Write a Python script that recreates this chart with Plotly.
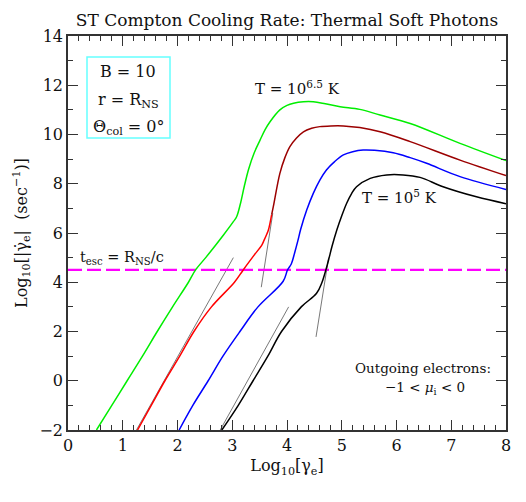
import plotly.graph_objects as go

# curves (log10 gamma_e, log10 |gamma_e dot|)
green_x = [0.52, 0.80, 1.08, 1.36, 1.63, 1.91, 2.20, 2.33, 2.53, 2.84, 3.02, 3.08, 3.15, 3.22,
           3.30, 3.40, 3.51, 3.60, 3.69, 3.87, 4.00, 4.12, 4.30, 4.48, 4.70, 4.97, 5.33, 5.70,
           6.25, 7.16, 8.00]
green_y = [-2.0, -1.0, 0.0, 1.0, 2.0, 3.0, 4.0, 4.5, 5.04, 5.92, 6.46, 6.66, 7.2, 7.9,
           8.6, 9.25, 9.78, 10.2, 10.52, 11.0, 11.18, 11.27, 11.33, 11.33, 11.25, 11.13, 11.02, 10.79,
           10.45, 9.64, 8.94]

red_x = [1.27, 1.52, 1.77, 2.04, 2.30, 2.62, 3.04, 3.20, 3.40, 3.54, 3.58, 3.63, 3.66, 3.72]
red_y = [-2.0, -1.0, 0.0, 1.0, 2.0, 3.0, 4.0, 4.5, 5.1, 5.51, 5.7, 5.95, 6.12, 6.75]

maroon_x = [3.72, 3.75, 3.87, 3.96, 4.05, 4.17, 4.30, 4.45, 4.60, 4.80, 5.03, 5.33, 5.70, 6.25,
            7.16, 8.00]
maroon_y = [6.75, 7.07, 8.42, 9.05, 9.5, 9.85, 10.11, 10.25, 10.32, 10.35, 10.35, 10.28, 10.11, 9.71,
            8.96, 8.33]

blue_x = [2.03, 2.28, 2.56, 2.83, 3.14, 3.47, 3.93, 4.01, 4.08, 4.14, 4.20, 4.25, 4.36, 4.48,
          4.60, 4.72, 4.87, 5.03, 5.20, 5.39, 5.60, 5.94, 6.25, 6.55, 7.16, 8.00]
blue_y = [-2.0, -1.0, 0.0, 1.0, 2.0, 3.0, 4.04, 4.5, 4.75, 5.2, 5.7, 6.15, 6.93, 7.61,
          8.15, 8.56, 8.9, 9.17, 9.3, 9.37, 9.36, 9.26, 9.06, 8.83, 8.29, 7.77]

black_x = [2.81, 3.11, 3.38, 3.65, 3.90, 4.26, 4.54, 4.64, 4.71, 4.77, 4.82, 4.91, 5.00, 5.09,
           5.18, 5.27, 5.52, 5.82, 6.12, 6.43, 6.85, 7.46, 8.00]
black_y = [-2.0, -1.0, 0.0, 1.0, 2.0, 3.0, 3.55, 4.0, 4.5, 5.0, 5.44, 6.12, 6.7, 7.21,
           7.6, 7.88, 8.22, 8.36, 8.36, 8.26, 7.88, 7.47, 7.19]

# thin guide lines
guide_x = [[1.25, 3.02], [2.78, 4.03], [3.53, 3.74], [4.53, 4.76]]
guide_y = [[-2.0, 5.0], [-2.0, 3.0], [3.8, 6.8], [1.78, 5.0]]

t_esc = 4.5
x_range = [0, 8]
y_range = [-2, 14]

FONT = "DejaVu Serif"
INK = "#111111"

fig = go.Figure()

for gx, gy in zip(guide_x, guide_y):
    fig.add_trace(go.Scatter(x=gx, y=gy, mode="lines",
                             line={"color": "#555555", "width": 0.8}))

fig.add_trace(go.Scatter(x=x_range, y=[t_esc, t_esc], mode="lines",
                         line={"color": "#ff00ff", "width": 2.2, "dash": "14px,5px"}))

curves = [
    (green_x, green_y, "#00ee00"),
    (red_x, red_y, "#ff0000"),
    (maroon_x, maroon_y, "#9b0000"),
    (blue_x, blue_y, "#0000ff"),
    (black_x, black_y, "#000000"),
]
for cx, cy, col in curves:
    fig.add_trace(go.Scatter(x=cx, y=cy, mode="lines", line_shape="spline",
                             line={"color": col, "width": 1.5}))

axis_common = dict(
    showgrid=False, zeroline=False, showline=True, linecolor="#333333", linewidth=1.5,
    mirror="allticks", ticks="inside", ticklen=10, tickwidth=1, tickcolor="#333333",
    tickfont={"family": FONT, "size": 16, "color": INK},
)

fig.update_xaxes(range=x_range, dtick=1, tick0=0,
                 minor={"dtick": 0.2, "ticks": "inside", "ticklen": 5, "tickcolor": "#333333"},
                 title={"text": "Log<sub>10</sub>[γ<sub>e</sub>]", "standoff": 6,
                        "font": {"family": FONT, "size": 16, "color": INK}},
                 **axis_common)
fig.update_yaxes(range=y_range, dtick=2, tick0=-2,
                 minor={"dtick": 1, "ticks": "inside", "ticklen": 5, "tickcolor": "#333333"},
                 title={"text": "Log<sub>10</sub>[|γ̇<sub>e</sub>|  (sec<sup>−1</sup>)]", "standoff": 8,
                        "font": {"family": FONT, "size": 16, "color": INK}},
                 **axis_common)

annotations = [
    dict(x=1.10, y=12.55, text="B = 10", size=16),
    dict(x=1.10, y=11.40, text="r = R<sub>NS</sub>", size=16),
    dict(x=1.10, y=10.30, text="Θ<sub>col</sub> = 0°", size=16),
    dict(x=4.20, y=11.90, text="T = 10<sup>6.5</sup> K", size=15),
    dict(x=6.06, y=7.46, text="T = 10<sup>5</sup> K", size=15),
    dict(x=0.18, y=5.0, text="t<sub>esc</sub> = R<sub>NS</sub>/c", xanchor="left", size=14.5),
    dict(x=7.76, y=0.52, text="Outgoing electrons:", xanchor="right", size=13.5),
    dict(x=6.52, y=-0.28, text="−1 < <i>μ</i><sub>i</sub> < 0", size=13.5),
]
for a in annotations:
    a.setdefault("xanchor", "center")
    size = a.pop("size")
    fig.add_annotation(xref="x", yref="y", showarrow=False,
                       font={"family": FONT, "size": size, "color": INK}, **a)

fig.add_shape(type="rect", xref="x", yref="y", x0=0.347, x1=1.863, y0=9.86, y1=13.15,
              line={"color": "#66ffff", "width": 1.5})

# the page body adds an 8px margin, so the figure is 8px smaller and margins shifted
fig.update_layout(
    width=518, height=494,
    margin={"l": 60, "r": 20, "t": 28, "b": 72},
    paper_bgcolor="white", plot_bgcolor="white",
    showlegend=False,
    title={"text": "ST Compton Cooling Rate: Thermal Soft Photons", "xref": "paper", "x": 0.5,
           "xanchor": "center", "y": 1 - 12 / 494, "yanchor": "middle",
           "font": {"family": FONT, "size": 17, "color": INK}},
)

fig.write_html("out.html")
